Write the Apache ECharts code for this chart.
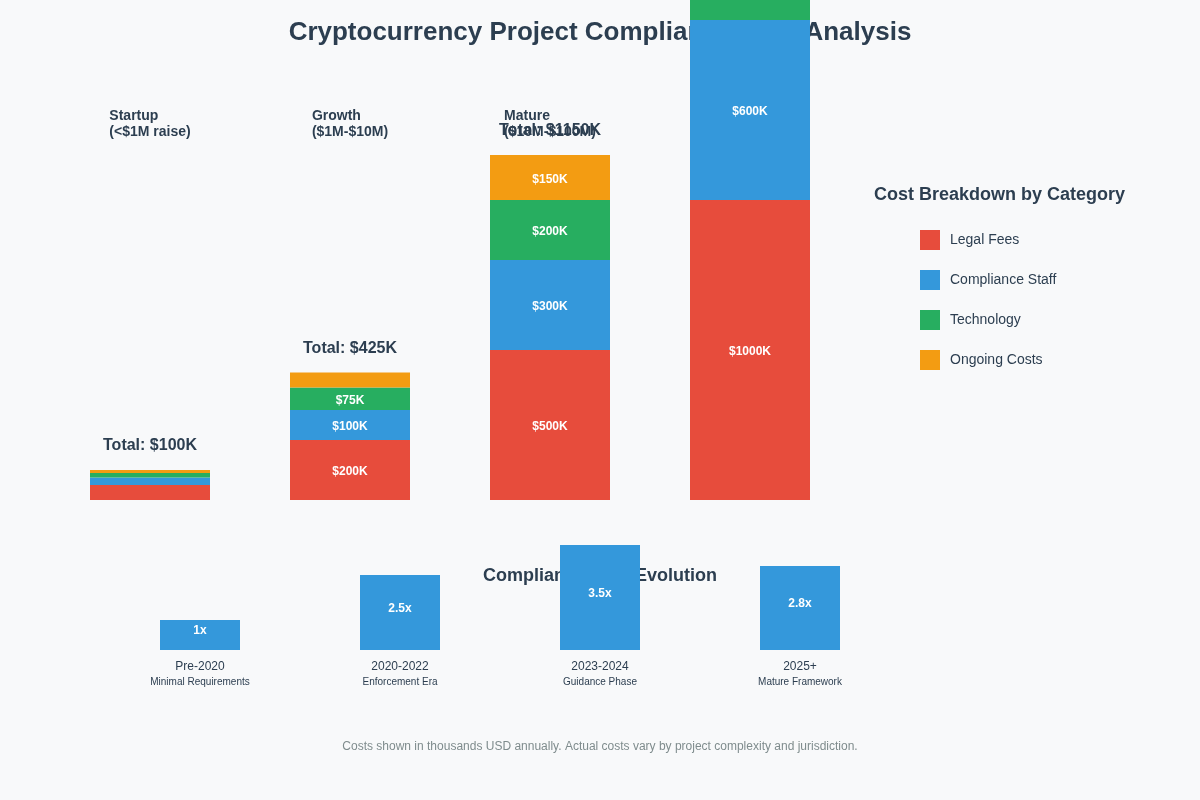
<!DOCTYPE html>
<html lang="en">
<head>
  <meta charset="UTF-8">
  <title>Crypto Compliance Costs</title>
  <style>
    html, body { margin: 0; padding: 0; background: #f8f9fa; }
    #chart { width: 1200px; height: 800px; }
  </style>
</head>
<body>
  <div id="chart"></div>
  <script src="https://cdn.jsdelivr.net/npm/echarts@6/dist/echarts.min.js"></script>
  <script>
    // project stages (thousands USD)
    var stages = ['Startup', 'Growth', 'Mature', 'Enterprise'];
    var stageRanges = ['(<$1M raise)', '($1M-$10M)', '($10M-$100M)', '($100M+)'];
    var legalFees = [50, 200, 500, 1000];
    var complianceStaff = [25, 100, 300, 600];
    var technology = [15, 75, 200, 400];
    var ongoingCosts = [10, 50, 150, 300];

    // evolution over time
    var periods = ['Pre-2020', '2020-2022', '2023-2024', '2025+'];
    var periodNotes = ['Minimal Requirements', 'Enforcement Era', 'Guidance Phase', 'Mature Framework'];
    var multipliers = [1, 2.5, 3.5, 2.8];

    var font = 'Liberation Sans, Arial, sans-serif';
    var dark = '#2c3e50';
    var colors = ['#e74c3c', '#3498db', '#27ae60', '#f39c12'];

    var totals = stages.map(function(s, i) {
      return legalFees[i] + complianceStaff[i] + technology[i] + ongoingCosts[i];
    });

    function segLabel(p) {
      return p.value >= 70 ? '$' + p.value + 'K' : '';
    }

    function costSeries(name, data, color) {
      return {
        name: name,
        type: 'bar',
        stack: 'cost',
        xAxisIndex: 0,
        yAxisIndex: 0,
        barWidth: 120,
        clip: false,
        data: data,
        itemStyle: { color: color },
        label: {
          show: true,
          position: 'inside',
          offset: [0, 2],
          color: '#fff',
          fontWeight: 'bold',
          fontSize: 12,
          fontFamily: font,
          formatter: segLabel
        }
      };
    }

    var chart = echarts.init(document.getElementById('chart'));

    var option = {
      backgroundColor: '#f8f9fa',
      animation: false,
      title: [
        {
          text: 'Cryptocurrency Project Compliance Cost Analysis',
          left: 'center',
          top: 15,
          z: 0,
          textStyle: { fontFamily: font, fontSize: 26, fontWeight: 'bold', color: dark }
        },
        {
          text: 'Cost Breakdown by Category',
          left: 869,
          top: 181,
          z: 0,
          textStyle: { fontFamily: font, fontSize: 18, fontWeight: 'bold', color: dark }
        },
        {
          text: 'Compliance Cost Evolution',
          left: 'center',
          top: 562,
          z: 0,
          textStyle: { fontFamily: font, fontSize: 18, fontWeight: 'bold', color: dark }
        },
        {
          text: 'Costs shown in thousands USD annually. Actual costs vary by project complexity and jurisdiction.',
          left: 'center',
          top: 736,
          z: 0,
          textStyle: { fontFamily: font, fontSize: 12, fontWeight: 'normal', color: '#7f8c8d' }
        }
      ],
      legend: {
        data: ['Legal Fees', 'Compliance Staff', 'Technology', 'Ongoing Costs'],
        orient: 'vertical',
        left: 915,
        top: 225,
        icon: 'rect',
        itemWidth: 20,
        itemHeight: 20,
        itemGap: 20,
        selectedMode: false,
        textStyle: { fontFamily: font, fontSize: 14, color: dark, padding: [0, 0, 0, 5] }
      },
      grid: [
        { left: 50, right: 350, top: 0, bottom: 300 },
        { left: 100, right: 300, top: 500, bottom: 150 }
      ],
      xAxis: [
        {
          type: 'category',
          gridIndex: 0,
          position: 'top',
          data: stages,
          axisLine: { show: false },
          axisTick: { show: false },
          axisLabel: {
            inside: true,
            margin: 108,
            verticalAlign: 'top',
            formatter: function(v, i) {
              return '{a|' + v + '}\n{a|' + stageRanges[i] + '}';
            },
            rich: {
              a: { align: 'left', fontFamily: font, fontSize: 14, fontWeight: 'bold', color: dark, lineHeight: 16 }
            }
          }
        },
        {
          type: 'category',
          gridIndex: 1,
          data: periods,
          axisLine: { show: false },
          axisTick: { show: false },
          axisLabel: {
            margin: 9,
            formatter: function(v, i) {
              return '{a|' + v + '}\n{b|' + periodNotes[i] + '}';
            },
            rich: {
              a: { fontFamily: font, fontSize: 12, color: dark, lineHeight: 16 },
              b: { fontFamily: font, fontSize: 10, color: dark, lineHeight: 14 }
            }
          }
        }
      ],
      yAxis: [
        { type: 'value', gridIndex: 0, min: 0, max: 5000 / 3, show: false },
        { type: 'value', gridIndex: 1, min: 0, max: 5, show: false }
      ],
      series: [
        costSeries('Legal Fees', legalFees, colors[0]),
        costSeries('Compliance Staff', complianceStaff, colors[1]),
        costSeries('Technology', technology, colors[2]),
        costSeries('Ongoing Costs', ongoingCosts, colors[3]),
        {
          name: 'Total',
          type: 'bar',
          stack: 'cost',
          barWidth: 120,
          clip: false,
          data: totals.map(function() { return 0; }),
          itemStyle: { color: 'transparent' },
          label: {
            show: true,
            position: 'top',
            distance: 16,
            fontFamily: font,
            fontSize: 16,
            fontWeight: 'bold',
            color: dark,
            formatter: function(p) { return 'Total: $' + totals[p.dataIndex] + 'K'; }
          }
        },
        {
          name: 'Multiplier',
          type: 'bar',
          xAxisIndex: 1,
          yAxisIndex: 1,
          barWidth: 80,
          data: multipliers,
          itemStyle: { color: '#3498db' },
          label: {
            show: true,
            position: 'inside',
            offset: [0, -4],
            color: '#fff',
            fontWeight: 'bold',
            fontSize: 12,
            fontFamily: font,
            formatter: function(p) { return p.value + 'x'; }
          }
        }
      ]
    };

    chart.setOption(option);
  </script>
</body>
</html>
